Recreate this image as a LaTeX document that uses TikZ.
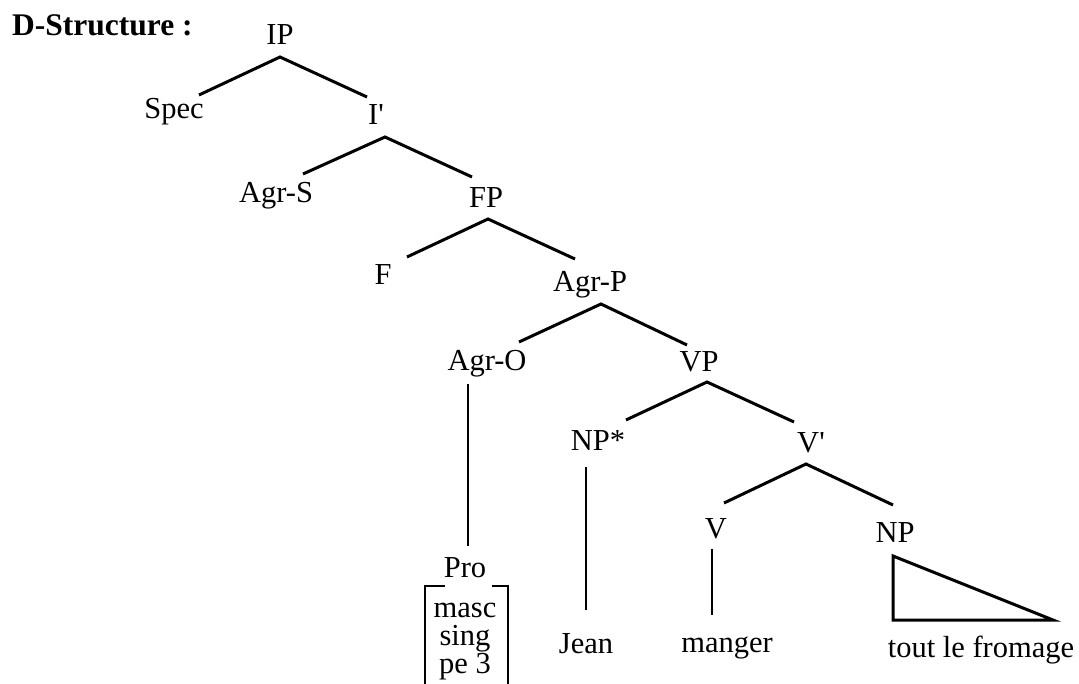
\documentclass[tikz,border=0pt]{standalone}
\usepackage{fontspec}
\setmainfont{Liberation Serif}
\begin{document}
\begin{tikzpicture}[x=1pt,y=-1pt,
  lbl/.style={inner sep=0pt,anchor=base,font=\fontsize{30.5}{36}\selectfont},
  branch/.style={line width=3pt},
  stem/.style={line width=2.3pt},
  brk/.style={line width=2.6pt}]
\useasboundingbox (0,0) rectangle (1079,684);
% title
\node[inner sep=0pt,anchor=base west,font=\fontsize{31.5}{36}\selectfont\bfseries] (title) at (12,36) {D-Structure :};
% labels
\node[lbl] (IP) at (280,45) {IP};
\node[lbl] (Spec) at (174,119) {Spec};
\node[lbl] (Ibar) at (376,125) {I\textquotesingle};
\node[lbl] (AgrS) at (276,203) {Agr-S};
\node[lbl] (FP) at (486,208) {FP};
\node[lbl] (F) at (383,285) {F};
\node[lbl] (AgrP) at (590,292) {Agr-P};
\node[lbl] (AgrO) at (487,371) {Agr-O};
\node[lbl] (VP) at (699,372) {VP};
\node[lbl] (NPs) at (598,450) {NP*};
\node[lbl] (Vbar) at (811,452) {V\textquotesingle};
\node[lbl] (V) at (716,538) {V};
\node[lbl] (NP) at (895,542) {NP};
\node[lbl] (Pro) at (465,577) {Pro};
\node[lbl,font=\fontsize{30.5}{27.5}\selectfont] (feat) at (465,617)
  {\begin{tabular}[t]{@{}c@{}}masc\\sing\\pe 3\end{tabular}};
\node[lbl] (Jean) at (586,653) {Jean};
\node[lbl] (manger) at (727,652) {manger};
\node[lbl] (tout) at (981,657) {tout le fromage};
% connector end points
\coordinate (IPa) at (280,57);
\coordinate (SpecE) at (199,95);
\coordinate (IbarE) at (367,97);
\coordinate (Ibara) at (385,137);
\coordinate (AgrSE) at (303,174);
\coordinate (FPE) at (472,177);
\coordinate (FPa) at (488,219);
\coordinate (FE) at (407,257);
\coordinate (AgrPE) at (575,259);
\coordinate (AgrPa) at (601,304);
\coordinate (AgrOE) at (519,342);
\coordinate (VPE) at (687,345);
\coordinate (VPa) at (707,382);
\coordinate (NPsE) at (626,420);
\coordinate (VbarE) at (794,422);
\coordinate (Vbara) at (806,464);
\coordinate (VE) at (724,503);
\coordinate (NPE) at (893,505);
\coordinate (AgrOs) at (468,384);
\coordinate (ProE) at (468,546);
\coordinate (NPss) at (586,467);
\coordinate (JeanE) at (586,610);
\coordinate (Vs) at (712,549);
\coordinate (mangerE) at (712,615);
\coordinate (triA) at (893,556);
\coordinate (triB) at (893,620);
\coordinate (triC) at (1053,620);
\coordinate (bl1) at (445,586);
\coordinate (bl2) at (425,586);
\coordinate (bl3) at (425,690);
\coordinate (br1) at (492,586);
\coordinate (br2) at (508,586);
\coordinate (br3) at (508,690);
% branches
\draw[branch] (SpecE) -- (IPa) -- (IbarE);
\draw[branch] (AgrSE) -- (Ibara) -- (FPE);
\draw[branch] (FE) -- (FPa) -- (AgrPE);
\draw[branch] (AgrOE) -- (AgrPa) -- (VPE);
\draw[branch] (NPsE) -- (VPa) -- (VbarE);
\draw[branch] (VE) -- (Vbara) -- (NPE);
% stems
\draw[stem] (AgrOs) -- (ProE);
\draw[stem] (NPss) -- (JeanE);
\draw[stem] (Vs) -- (mangerE);
% triangle
\draw[branch,line join=miter] (triA) -- (triB) -- (triC) -- cycle;
% feature bracket
\draw[brk] (bl1) -- (bl2) -- (bl3);
\draw[brk] (br1) -- (br2) -- (br3);
\end{tikzpicture}
\end{document}
